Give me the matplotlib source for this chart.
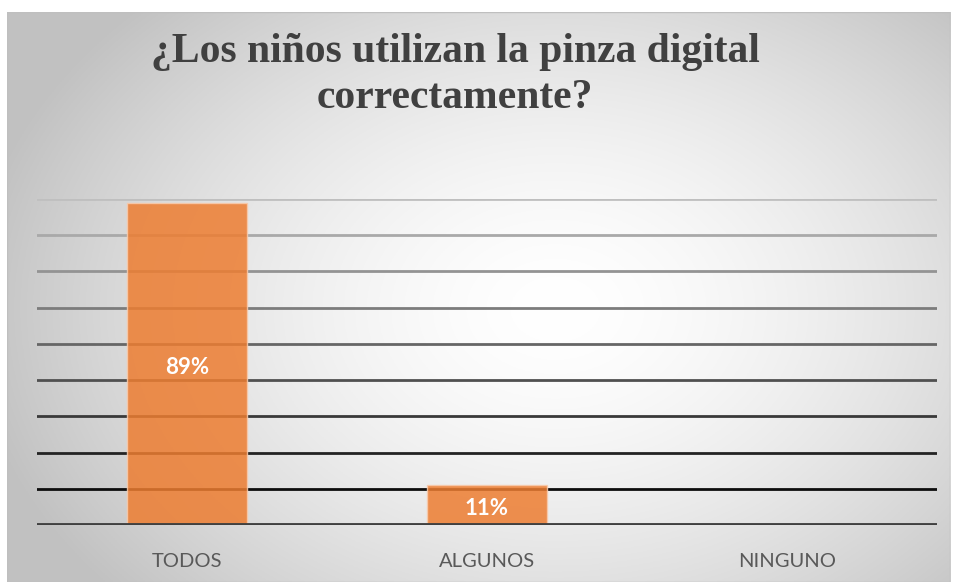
import numpy as np
import matplotlib
matplotlib.use("Agg")
import matplotlib.pyplot as plt
from matplotlib.patches import Rectangle

categories = ["TODOS", "ALGUNOS", "NINGUNO"]
values = [0.89, 0.11, 0.0]
labels = ["89%", "11%", ""]
title = "¿Los niños utilizan la pinza digital\ncorrectamente?"

W, H = 956, 582
fig = plt.figure(figsize=(W / 100, H / 100), dpi=100)
fig.patch.set_facecolor("white")

# background panel with radial gradient
bg = fig.add_axes([7 / W, 0, (950 - 7) / W, (582 - 12) / H])
bg.set_axis_off()
ny, nx = 300, 500
yy, xx = np.mgrid[0:ny, 0:nx]
cx, cy = 0.58 * nx, 0.52 * ny
r = np.sqrt(((xx - cx) / (0.62 * nx)) ** 2 + ((yy - cy) / (0.75 * ny)) ** 2)
val = 1.0 - 0.24 * np.clip(r, 0, 1) ** 1.6
img = np.dstack([val, val, val])
bg.imshow(img, extent=[0, 1, 0, 1], aspect="auto", origin="upper")
bg.set_xlim(0, 1)
bg.set_ylim(0, 1)
bg.add_patch(Rectangle((0, 0), 1, 1, transform=bg.transAxes, fill=False,
                       edgecolor="#bfbfbf", lw=1))

# plot area
left, right = 37 / W, 937 / W
bottom, top = (H - 525) / H, (H - 199) / H
ax = fig.add_axes([left, bottom, right - left, top - bottom])
ax.set_facecolor("none")
ax.set_xlim(-0.5, 2.5)
ax.set_ylim(0, 0.9)

grid_levels = np.arange(0.1, 0.91, 0.1)
for i, g in enumerate(grid_levels):
    t = (g - 0.1) / 0.8
    c = 0.05 + 0.70 * t
    ax.axhline(g, color=(c, c, c), lw=2, zorder=1)
ax.axhline(0, color="#404040", lw=3.5, zorder=4)

x = np.arange(len(categories))
bars = ax.bar(x, values, width=0.4, color="#ED7D31", alpha=0.85,
              edgecolor="#F8CBAD", linewidth=1, zorder=2)
for xi, v, lab in zip(x, values, labels):
    if lab:
        ax.text(xi, v / 2 - 0.01, lab, ha="center", va="center", color="white",
                fontsize=16, fontweight="bold", family=["Lato", "DejaVu Sans"], zorder=5)

for s in ax.spines.values():
    s.set_visible(False)
ax.set_yticks([])
ax.set_xticks(x)
ax.set_xticklabels(categories, fontsize=14.5, color="#595959",
                   family=["Lato", "DejaVu Sans"])
ax.tick_params(axis="x", length=0, pad=20)

fig.text(455 / W, 1 - 75 / H, title, ha="center", va="center",
         fontsize=30, fontweight="bold", color="#404040",
         family=["Liberation Serif", "DejaVu Serif"], linespacing=1.25)

fig.savefig("out.png", dpi=100)
